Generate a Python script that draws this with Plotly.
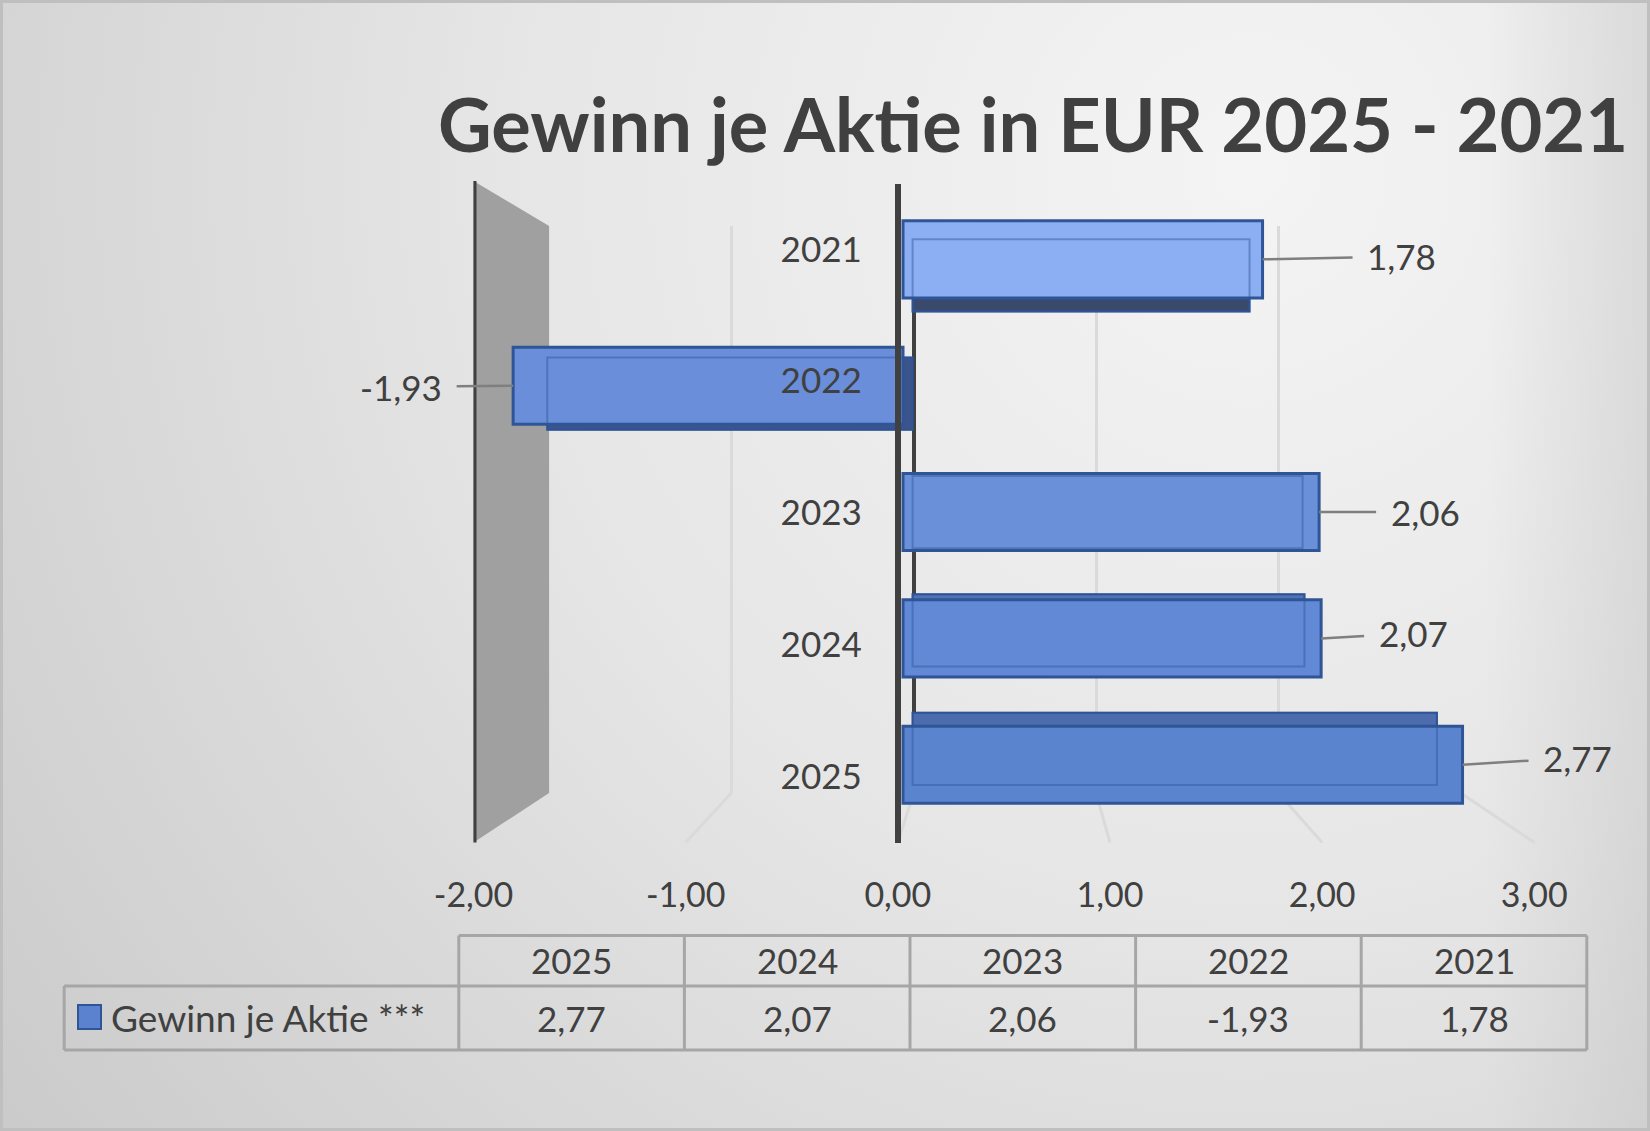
import base64
import plotly.graph_objects as go

# ---------------- data ----------------
categories = ["2025", "2024", "2023", "2022", "2021"]      # bottom -> top / table left -> right
eps_values = [2.77, 2.07, 2.06, -1.93, 1.78]
x_ticks = [-2, -1, 0, 1, 2, 3]
title_text = "Gewinn je Aktie in EUR 2025 - 2021"
series_name = "Gewinn je Aktie ***"

# ---------------- styles ----------------
W, H = 1650, 1131
FONT = "Lato, 'Open Sans', sans-serif"
TXT = "#404040"
face_colors = ["#5B84CF", "#6189D5", "#6A90DA", "#6A8EDA", "#8CAEF2"]
back_colors = ["#4C6CAD", "#5173B6", "#5A7CC0", "#3C548C", "#3A4A6C"]
EDGE = "#2F5597"
label_offsets = [(115, -7), (92, -5), (106, 0), (-112, 1), (139, -3)]


def fx(p):
    return p / W


def fy(p):
    return 1 - p / H


# plane geometry in px: (left, right, top, bottom)
FRONT = (473.5, 1534.3, 183.5, 842.5)
WALL = (549.1, 1460.6, 226.0, 793.0)
BAR_FRONT = (499.0, 1509.0, 196.2, 827.9)
BAR_BACK = (534.0, 1480.5, 216.1, 808.0)
XR = [x_ticks[0], x_ticks[-1]]
YR = [-0.5, len(categories) - 0.5]


def xdom(p):
    return [fx(p[0]), fx(p[1])]


def ydom(p):
    return [fy(p[3]), fy(p[2])]


def plane_x(p, v):
    return p[0] + (v - XR[0]) / (XR[1] - XR[0]) * (p[1] - p[0])


def plane_y(p, idx):
    return p[3] - (idx - YR[0]) / (YR[1] - YR[0]) * (p[3] - p[2])


def fmt(v):
    return f"{v:.2f}".replace(".", ",")


fig = go.Figure()

# wall subplot carrier (gridlines of the back wall)
fig.add_trace(go.Scatter(x=eps_values, y=categories, mode="markers",
                         marker=dict(opacity=0), hoverinfo="skip",
                         xaxis="x", yaxis="y", showlegend=False))
# back faces of the 3D bars
fig.add_trace(go.Bar(x=eps_values, y=categories, orientation="h",
                     marker=dict(color=back_colors, line=dict(color=EDGE, width=2)),
                     xaxis="x2", yaxis="y2", hoverinfo="skip", showlegend=False))
# front faces
fig.add_trace(go.Bar(x=eps_values, y=categories, orientation="h", name=series_name,
                     marker=dict(color=face_colors, line=dict(color=EDGE, width=3)),
                     xaxis="x3", yaxis="y3", showlegend=False))
# visible back edges through the front faces
fig.add_trace(go.Bar(x=eps_values, y=categories, orientation="h",
                     marker=dict(color="rgba(0,0,0,0)",
                                 line=dict(color="rgba(47,85,151,0.45)", width=2)),
                     xaxis="x4", yaxis="y4", hoverinfo="skip", showlegend=False))
# front axes carrier
fig.add_trace(go.Scatter(x=eps_values, y=categories, mode="markers",
                         marker=dict(opacity=0), hoverinfo="skip",
                         xaxis="x5", yaxis="y5", showlegend=False))

cat_axis = dict(type="category", categoryorder="array", categoryarray=categories,
                range=YR, fixedrange=True, automargin=False)
quiet = dict(showticklabels=False, ticks="", showgrid=False, zeroline=False,
             showline=False)
quiet_x = dict(range=XR, fixedrange=True, automargin=False, **quiet)

layout = dict(
    template="none",
    width=W, height=H, margin=dict(l=0, r=0, t=0, b=0, pad=0, autoexpand=False),
    autosize=False,
    paper_bgcolor="#E6E6E6", plot_bgcolor="rgba(0,0,0,0)",
    bargap=0.39, showlegend=False,
    font=dict(family=FONT, color=TXT),
    xaxis=dict(domain=xdom(WALL), range=XR, anchor="y", tickvals=x_ticks,
               showticklabels=False, ticks="", showgrid=True, gridcolor="#DADADA",
               gridwidth=3, zeroline=True, zerolinecolor=TXT, zerolinewidth=4,
               showline=False, fixedrange=True, automargin=False),
    yaxis=dict(domain=ydom(WALL), anchor="x", **quiet, **cat_axis),
    xaxis2=dict(domain=xdom(BAR_BACK), anchor="y2", **quiet_x),
    yaxis2=dict(domain=ydom(BAR_BACK), anchor="x2", **quiet, **cat_axis),
    xaxis3=dict(domain=xdom(BAR_FRONT), anchor="y3", **quiet_x),
    yaxis3=dict(domain=ydom(BAR_FRONT), anchor="x3", **quiet, **cat_axis),
    xaxis4=dict(domain=xdom(BAR_BACK), anchor="y4", **quiet_x),
    yaxis4=dict(domain=ydom(BAR_BACK), anchor="x4", **quiet, **cat_axis),
    xaxis5=dict(domain=xdom(FRONT), range=XR, anchor="y5", tickvals=x_ticks,
                ticktext=[fmt(t) for t in x_ticks], ticks="", ticklabelstandoff=29,
                tickfont=dict(family=FONT, size=34, color=TXT),
                showgrid=False, zeroline=True, zerolinecolor=TXT, zerolinewidth=6,
                showline=False, fixedrange=True, automargin=False),
    yaxis5=dict(domain=ydom(FRONT), anchor="free", position=fx(plane_x(FRONT, 0)),
                side="left", ticks="", ticklabelstandoff=36,
                tickfont=dict(family=FONT, size=35, color=TXT),
                showgrid=False, zeroline=False, showline=False, **cat_axis),
)

# background gradient (paper)
svg = (
    f"<svg xmlns='http://www.w3.org/2000/svg' width='{W}' height='{H}' "
    f"viewBox='0 0 {W} {H}' preserveAspectRatio='none'><defs>"
    "<radialGradient id='g' gradientUnits='userSpaceOnUse' cx='1250' cy='170' r='1650'>"
    "<stop offset='0' stop-color='#F4F4F4'/><stop offset='0.45' stop-color='#E6E6E6'/>"
    "<stop offset='1' stop-color='#C8C8C8'/></radialGradient>"
    "<linearGradient id='r' x1='0' y1='0' x2='1' y2='0'>"
    "<stop offset='0.9' stop-color='#BEBEBE' stop-opacity='0'/>"
    "<stop offset='1' stop-color='#BEBEBE' stop-opacity='0.4'/></linearGradient></defs>"
    f"<rect width='{W}' height='{H}' fill='url(#g)'/>"
    f"<rect width='{W}' height='{H}' fill='url(#r)'/></svg>"
)
src = "data:image/svg+xml;base64," + base64.b64encode(svg.encode()).decode()
layout["images"] = [dict(source=src, xref="paper", yref="paper", x=0, y=1, sizex=1, sizey=1,
                         xanchor="left", yanchor="top", sizing="stretch", layer="below")]

shapes = []
# gray side wall at the left
wall_path = (f"M {fx(FRONT[0])},{fy(181)} L {fx(WALL[0])},{fy(WALL[2])} "
             f"L {fx(WALL[0])},{fy(WALL[3])} L {fx(FRONT[0])},{fy(FRONT[3])} Z")
shapes.append(dict(type="path", path=wall_path, xref="paper", yref="paper",
                   fillcolor="#A0A0A0", line=dict(width=0), layer="below"))
# floor lines from back wall to front
for t in x_ticks[1:]:
    shapes.append(dict(type="line", xref="paper", yref="paper",
                       x0=fx(plane_x(WALL, t)), y0=fy(WALL[3]),
                       x1=fx(plane_x(FRONT, t)), y1=fy(FRONT[3]),
                       line=dict(color="#DADADA", width=3), layer="below"))
# front left axis line (-2)
shapes.append(dict(type="line", xref="x5", yref="paper", x0=XR[0], x1=XR[0],
                   y0=fy(181), y1=fy(FRONT[3]), line=dict(color=TXT, width=6), layer="above"))

# ---------------- data table ----------------
GRID = "#A6A6A6"
col_left, col_w = 458.8, 225.6
col_edges = [col_left + i * col_w for i in range(len(categories) + 1)]
row_top, row_mid, row_bot, legend_left = 935.5, 986.0, 1050.0, 64.2
tl = dict(color=GRID, width=3)
shapes.append(dict(type="line", xref="paper", yref="paper", x0=fx(col_edges[0]), x1=fx(col_edges[-1]),
                   y0=fy(row_top), y1=fy(row_top), line=tl))
for yy in (row_mid, row_bot):
    shapes.append(dict(type="line", xref="paper", yref="paper", x0=fx(legend_left), x1=fx(col_edges[-1]),
                       y0=fy(yy), y1=fy(yy), line=tl))
shapes.append(dict(type="line", xref="paper", yref="paper", x0=fx(legend_left), x1=fx(legend_left),
                   y0=fy(row_mid), y1=fy(row_bot), line=tl))
for xe in col_edges:
    shapes.append(dict(type="line", xref="paper", yref="paper", x0=fx(xe), x1=fx(xe),
                       y0=fy(row_top), y1=fy(row_bot), line=tl))
# legend swatch
shapes.append(dict(type="rect", xref="paper", yref="paper", x0=fx(78), x1=fx(101),
                   y0=fy(1029), y1=fy(1005), fillcolor="#5A82CE", line=dict(color=EDGE, width=2)))
# outer border
shapes.append(dict(type="rect", xref="paper", yref="paper", x0=0, x1=1, y0=0, y1=1,
                   line=dict(color="#BFBFBF", width=6), layer="above"))
layout["shapes"] = shapes

annotations = []
annotations.append(dict(text=title_text, xref="paper", yref="paper", x=fx(1033), y=fy(124),
                        xanchor="center", yanchor="middle", showarrow=False,
                        font=dict(family=FONT, size=74, color=TXT, weight="bold")))
# data labels with leader lines (anchored at the end of each front bar face)
for i, (v, (ax, ay)) in enumerate(zip(eps_values, label_offsets)):
    annotations.append(dict(text=fmt(v), xref="paper", yref="paper",
                            x=fx(plane_x(BAR_FRONT, v)), y=fy(plane_y(BAR_FRONT, i)),
                            showarrow=True, arrowhead=0, arrowwidth=2.5, arrowcolor="#7F7F7F",
                            ax=ax, ay=ay, axref="pixel", ayref="pixel",
                            standoff=0, borderpad=14,
                            font=dict(family=FONT, size=35, color=TXT)))
# table text
for i, (cat, v) in enumerate(zip(categories, eps_values)):
    cx = (col_edges[i] + col_edges[i + 1]) / 2
    annotations.append(dict(text=cat, xref="paper", yref="paper", x=fx(cx), y=fy(960),
                            xanchor="center", yanchor="middle", showarrow=False,
                            font=dict(family=FONT, size=35, color=TXT)))
    annotations.append(dict(text=fmt(v), xref="paper", yref="paper", x=fx(cx), y=fy(1017.6),
                            xanchor="center", yanchor="middle", showarrow=False,
                            font=dict(family=FONT, size=35, color=TXT)))
annotations.append(dict(text=series_name, xref="paper", yref="paper", x=fx(109), y=fy(1017),
                        xanchor="left", yanchor="middle", showarrow=False,
                        font=dict(family=FONT, size=37, color=TXT)))
layout["annotations"] = annotations

fig.update_layout(layout)

fig.write_html("out.html", config={"displayModeBar": False},
               post_script="document.body.style.margin='0';document.body.style.overflow='hidden';")
